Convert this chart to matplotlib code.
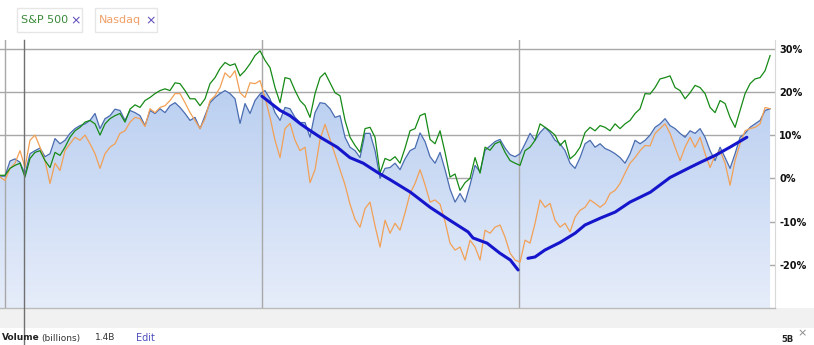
import numpy as np
import pandas as pd
import matplotlib
matplotlib.use('Agg')
import matplotlib.pyplot as plt
import matplotlib.dates as mdates
import matplotlib.transforms as mtransforms
from matplotlib.colors import LinearSegmentedColormap
from matplotlib.patches import Rectangle

# weekly-ish closes, % change from start
dates = pd.date_range('2020-12-25', '2023-12-24', periods=155)

stock = [0.5, 0.5, 4, 4.5, 3.7, 1, 5.7, 6.4, 7, 5,
         5.7, 9.2, 8, 8.8, 10.4, 11.5, 12.2, 12.6, 13.4, 15,
         11.5, 13.8, 14.5, 16, 15.7, 13.4, 15.7, 15.2, 14.5, 12.2,
         15.7, 15, 16.1, 15.2, 16.8, 17.5, 16.4, 15, 13.4, 14.1,
         11.5, 14.5, 17.5, 18.7, 19.6, 20.3, 19.6, 18.4, 12.7, 17.3,
         15, 18, 19.5, 20.3, 18.4, 15.2, 13.4, 16.4, 16.1, 14.1,
         12.9, 12.9, 9.5, 15.2, 17.5, 17.3, 16.1, 14.1, 14.5, 9.5,
         7.2, 6.4, 4.8, 10.4, 10.4, 6.4, 0, 2.3, 2.5, 3.5,
         2, 4.5, 6.4, 7, 10.5, 8.5, 5, 3.5, 6, 2,
         -2.5, -5.5, -3.5, -5.5, -1.5, 3, 1.5, 6.5, 7.5, 8.5,
         9, 7, 5.5, 5, 5.7, 8, 10.4, 8.8, 10.6, 11.8,
         10.6, 8.8, 8, 6.4, 3.5, 2.3, 4.8, 8, 8.8, 7.2,
         8, 6.9, 6.4, 5.7, 4.8, 3.5, 5.7, 8.8, 8, 8.8,
         10, 11.8, 12.6, 13.8, 12.2, 11.5, 10.4, 9.5, 11, 10.4,
         11.5, 9.5, 6.4, 4.1, 7.2, 4.8, 2.3, 5.7, 9.5, 10.4,
         11.8, 12.6, 13.4, 15.7, 16.1]

sp500 = [0.7, 0.7, 2.3, 3, 3.5, 0.3, 4.6, 6, 6.4, 4.1,
         2.5, 6, 5.3, 7.2, 9.5, 11, 11.8, 13, 13.4, 12.6,
         10, 12.6, 13.8, 14.5, 15, 13, 16, 17, 16.4, 18,
         18.7, 19.6, 20.3, 20.7, 20.3, 22.1, 21.9, 20.3, 18.4, 18.4,
         16.8, 18.4, 21.9, 23.3, 25.4, 26.8, 26.1, 26.5, 23.7, 24.9,
         26.5, 28.4, 29.5, 27.3, 25.6, 21, 17.5, 23.3, 23, 20.3,
         18, 16.8, 14.1, 19.6, 23.3, 24.4, 22.1, 19.8, 19.1, 13.4,
         9.5, 7.6, 6, 11.5, 11.8, 9.5, 1.2, 4.6, 4.1, 5,
         3.5, 7, 11, 11.5, 14.5, 15, 9, 8, 11, 6,
         0.3, 1, -2.8, -1, 0, 4.8, 1.2, 7.2, 6.5, 8,
         8.5, 6, 4.1, 3.5, 3, 6.4, 7.2, 8.8, 12.6, 11.8,
         11, 10, 7.6, 8.8, 4.5, 5.5, 7.2, 10.6, 11.8, 11,
         12.2, 11.8, 11, 12.6, 11.5, 12.6, 13.4, 15, 16.1, 19.6,
         19.5, 21, 23, 23.3, 23.7, 21, 20.3, 18.4, 19.8, 21.5,
         21, 19.6, 16.4, 15.2, 18, 17.3, 14.1, 11.8, 15.7, 19.6,
         21.9, 23, 23.3, 24.9, 28.4]

nasdaq = [0.3, -0.5, 2.3, 3.5, 6.4, 2.5, 8.8, 10, 7.2, 4.1,
          -1.2, 3.5, 1.8, 6.4, 8, 9.5, 8.8, 10, 8, 5.7,
          2.3, 5.7, 7.2, 8, 10.4, 11, 13, 14.1, 13.8, 12,
          16.1, 15.2, 16.4, 16.8, 18, 19.6, 19.6, 17.5, 15.2, 13.4,
          11.5, 13.8, 18, 19.1, 21, 24.4, 23.3, 24.9, 19.8, 18.7,
          22.1, 21.9, 22.6, 18.7, 14.1, 8.8, 4.8, 11.5, 12.7, 8.8,
          6.4, 7.2, -1, 2, 9, 12.5, 9, 5.5, 2, -1.5,
          -6, -9.5, -11.3, -7, -5.5, -11, -15.9, -9.7, -12.7, -10.4,
          -12, -8, -3.5, -1.2, 2, -1.5, -5.5, -5, -6, -10,
          -15, -16.6, -15.9, -18.9, -14.3, -15.9, -18.9, -12, -12.7, -11.3,
          -10.8, -13.6, -17.3, -18.9, -19.4, -14.3, -15, -10.4, -5, -6.7,
          -5.8, -9.7, -11.3, -10.4, -12.4, -9, -7.4, -6.7, -5, -5.8,
          -6.7, -5.8, -3.5, -2.8, -1.2, 1.2, 3.5, 4.8, 6.4, 7.6,
          7.5, 10.4, 11.5, 12.6, 10.4, 7.2, 4.1, 7.2, 9.5, 7.2,
          9.5, 5.7, 2.5, 5.3, 6.4, 3.5, -1.6, 4.1, 8, 11,
          11.5, 11.8, 12.6, 16.4, 16.1]

# hand drawn trend lines
down_dates = ['2022-01-01', '2022-01-27', '2022-02-10', '2022-02-24', '2022-03-11',
              '2022-03-25', '2022-04-18', '2022-05-06', '2022-05-25', '2022-06-14',
              '2022-07-02', '2022-07-31', '2022-08-28', '2022-09-25', '2022-10-21',
              '2022-10-28', '2022-11-17', '2022-12-05', '2022-12-20', '2022-12-31']
down_vals = [19, 15.7, 14.5, 12.7, 11, 9.5, 7.2, 4.8, 3.5, 1.4,
             -0.3, -3.2, -6.7, -9.7, -12.4, -13.8, -15, -17.3, -18.9, -21.2]
up_dates = ['2023-01-14', '2023-01-24', '2023-02-07', '2023-03-01', '2023-03-22',
            '2023-04-05', '2023-04-27', '2023-05-18', '2023-06-08', '2023-06-22',
            '2023-07-07', '2023-08-04', '2023-09-01', '2023-09-16', '2023-10-07',
            '2023-10-28', '2023-11-21']
up_vals = [-18.5, -18.2, -16.6, -14.8, -12.7, -10.8, -9.2, -7.8, -5.5, -4.4,
           -3.2, 0.2, 2.5, 3.7, 5.3, 7.2, 9.5]

yticks = [30, 20, 10, 0, -10, -20]
W, H = 814, 345

fig = plt.figure(figsize=(W / 100, H / 100), dpi=100)
ax = fig.add_axes([0, (H - 308) / H, 775 / W, 268 / H])

x0 = pd.Timestamp('2020-12-25')
x1 = x0 + pd.Timedelta(days=1101)

# gradient fill under the main series
fill = ax.fill_between(dates, stock, -30, facecolor='none', lw=0)
grad = np.linspace(0, 1, 256).reshape(-1, 1)
cmap = LinearSegmentedColormap.from_list('g', ['#e6edfa', '#b0c8ee'])
im = ax.imshow(grad, extent=[mdates.date2num(x0), mdates.date2num(x1), -30, 32],
               origin='lower', aspect='auto', cmap=cmap, zorder=1)
im.set_clip_path(fill.get_paths()[0], transform=ax.transData)

for v in yticks:
    ax.axhline(v, color='#a8a8a8', lw=1, zorder=0.5)
for d in ['2021-01-01', '2022-01-01', '2023-01-01']:
    ax.axvline(pd.Timestamp(d), color='#a8a8a8', lw=1, zorder=2)

ax.plot(dates, stock, color='#4a6cb0', lw=0.9, zorder=3)
ax.plot(dates, nasdaq, color='#f2a055', lw=0.9, zorder=4)
ax.plot(dates, sp500, color='#168a16', lw=0.9, zorder=5)
ax.plot(pd.to_datetime(down_dates), down_vals, color='#1515cc', lw=2.2, zorder=6,
        solid_capstyle='round')
ax.plot(pd.to_datetime(up_dates), up_vals, color='#1515cc', lw=2.2, zorder=6,
        solid_capstyle='round')

ax.set_xlim(x0, x1)
ax.set_ylim(-30, 32)
ax.set_xticks([])
ax.yaxis.tick_right()
ax.set_yticks(yticks)
ax.set_yticklabels([f'{v}%' for v in yticks], fontsize=7, fontweight='bold', color='#111111')
ax.tick_params(axis='y', length=0, pad=3)
for s in ['top', 'left', 'bottom']:
    ax.spines[s].set_visible(False)
ax.spines['right'].set_color('#d8d8d8')

# x axis band
fig.patches.append(Rectangle((0, (H - 328) / H), 1, 20 / H, transform=fig.transFigure,
                             facecolor='#f1f1f1', edgecolor='none', zorder=0))
fig.add_artist(plt.Line2D([0, 775 / W], [(H - 308) / H] * 2, color='#bbbbbb', lw=1))
trans = mtransforms.blended_transform_factory(ax.transData, fig.transFigure)
for lab in ['2022', '2023']:
    ax.text(pd.Timestamp(lab + '-01-01'), 1 - 318 / H, lab, transform=trans, ha='center',
            va='center', fontsize=7, fontweight='bold', color='#222222', clip_on=False)

# cursor line
fig.add_artist(plt.Line2D([24 / W, 24 / W], [0, (H - 40) / H], color='#707070', lw=1))

# legend chips
def chip(x, w, name, col):
    fig.patches.append(Rectangle((x / W, 1 - 32 / H), w / W, 24 / H, transform=fig.transFigure,
                                 facecolor='white', edgecolor='#e6e6e6', lw=1))
    fig.text((x + 4) / W, 1 - 20 / H, name, color=col, fontsize=8, va='center')
    fig.text((x + w - 12) / W, 1 - 21 / H, '×', color='#5a4cb8', fontsize=9, va='center')

chip(17, 65, 'S&P 500', '#3a8a3a')
chip(95, 62, 'Nasdaq', '#f0a068')

# volume row
fig.text(2 / W, 1 - 338 / H, 'Volume', fontsize=6.5, fontweight='bold', color='#222222', va='center')
fig.text(41 / W, 1 - 338 / H, '(billions)', fontsize=6.5, color='#333333', va='center')
fig.text(95 / W, 1 - 338 / H, '1.4B', fontsize=6.5, color='#333333', va='center')
fig.text(136 / W, 1 - 338 / H, 'Edit', fontsize=7, color='#5050c0', va='center')
fig.text(797 / W, 1 - 333 / H, '×', fontsize=8, color='#888888', va='center')
fig.text(781 / W, 1 - 339 / H, '5B', fontsize=6, fontweight='bold', color='#222222', va='center')

fig.savefig('out.png', dpi=100)
